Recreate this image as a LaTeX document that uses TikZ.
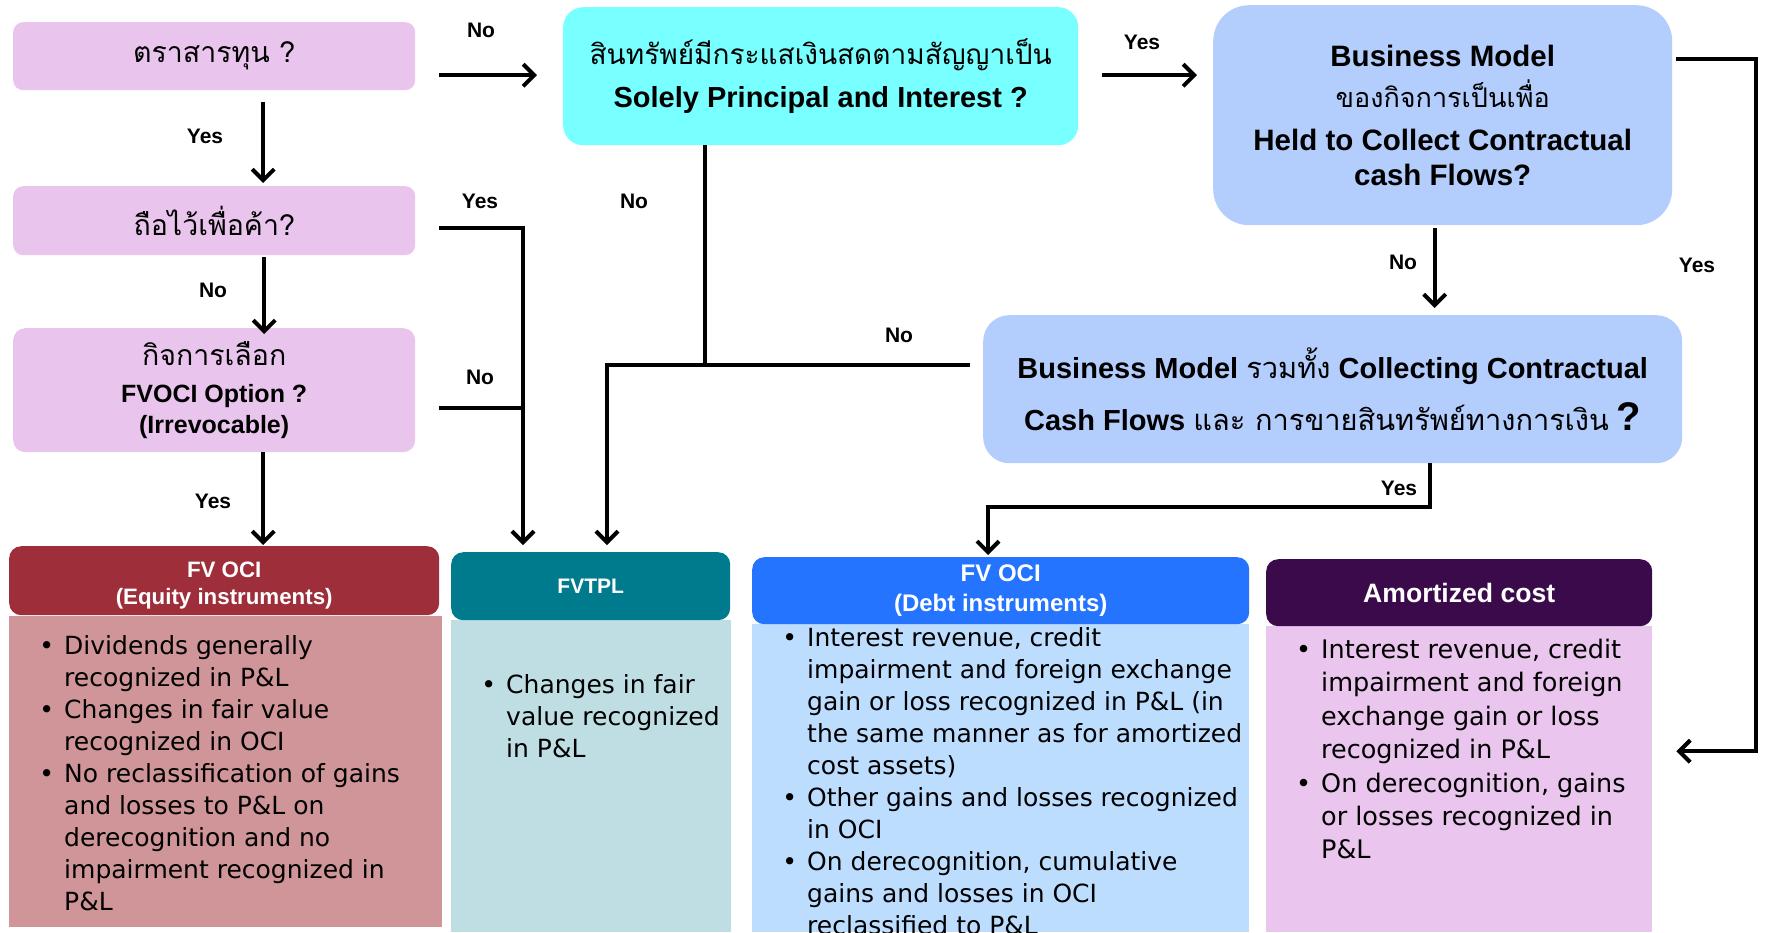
\documentclass[tikz,border=0pt]{standalone}
\usepackage{fontspec}
\setmainfont{Liberation Sans}
\newfontfamily\thaifont[Script=Thai]{Loma}
\newfontfamily\bodyfont{DejaVu Sans}
\usetikzlibrary{arrows.meta,calc}
\definecolor{pinkq}{HTML}{E9C5EE}
\definecolor{cyanq}{HTML}{78FFFF}
\definecolor{blueq}{HTML}{B3CDFD}
\definecolor{eqhead}{HTML}{9E2E3A}
\definecolor{eqbody}{HTML}{CF9599}
\definecolor{tphead}{HTML}{007B8E}
\definecolor{tpbody}{HTML}{BEDEE3}
\definecolor{dbhead}{HTML}{2474FF}
\definecolor{dbbody}{HTML}{BDDDFE}
\definecolor{amhead}{HTML}{3A0A4A}
\definecolor{ambody}{HTML}{EAC5EE}
\tikzset{
  qbox/.style={anchor=north west, inner sep=0pt, align=center, text=black},
  conn/.style={line width=4pt},
  arr/.style={conn, -{Straight Barb[length=11pt,width=22pt]}},
  lbl/.style={font=\fontsize{21}{24}\selectfont\bfseries, inner sep=0pt},
  head/.style={anchor=north west, inner sep=0pt, rounded corners=12pt, text=white, align=center},
  bodyrect/.style={anchor=north west, inner sep=0pt},
  bodytxt/.style={anchor=north west, inner sep=0pt, align=left, font=\bodyfont\fontsize{25}{32}\selectfont},
}
\newcommand{\bl}{\llap{•\hspace{10pt}}}
\begin{document}
\begin{tikzpicture}[x=1pt,y=-1pt]
\useasboundingbox (0,0) rectangle (1768,932);
\fill[white] (0,0) rectangle (1768,932);

% question boxes
\node[qbox, fill=pinkq, rounded corners=10pt, minimum width=402pt, minimum height=68pt,
  font=\thaifont\fontsize{28.5}{30}\selectfont] (A) at (13,22) {ตราสารทุน ?};
\node[qbox, fill=pinkq, rounded corners=10pt, minimum width=402pt, minimum height=69pt,
  font=\thaifont\fontsize{28.5}{30}\selectfont] (B) at (13,186) {ถือไว้เพื่อค้า?};
\node[qbox, fill=pinkq, rounded corners=12pt, minimum width=402pt, minimum height=124pt,
  font=\fontsize{25}{31}\selectfont] (C) at (13,328)
  {{\thaifont\fontsize{28.5}{31}\selectfont กิจการเลือก}\\[6pt]\textbf{FVOCI Option ?}\\\textbf{(Irrevocable)}};
\node[qbox, fill=cyanq, rounded corners=20pt, minimum width=515pt, minimum height=138pt,
  font=\fontsize{28}{43}\selectfont] (D) at (563,7)
  {{\thaifont สินทรัพย์มีกระแสเงินสดตามสัญญาเป็น}\\\textbf{\fontsize{29}{43}\selectfont Solely Principal and Interest ?}};
\node[qbox, fill=blueq, rounded corners=36pt, minimum width=459pt, minimum height=220pt,
  font=\bfseries\fontsize{29.5}{35}\selectfont] (E) at (1213,5)
  {Business Model\\[6pt]{\thaifont\mdseries\fontsize{27}{35}\selectfont ของกิจการเป็นเพื่อ}\\[8pt]Held to Collect Contractual\\cash Flows?};
\node[qbox, fill=blueq, rounded corners=26pt, minimum width=699pt, minimum height=148pt,
  font=\bfseries\fontsize{29}{52}\selectfont] (F) at (983,315)
  {Business Model {\thaifont\mdseries รวมทั้ง} Collecting Contractual\\Cash Flows {\thaifont\mdseries และ การขายสินทรัพย์ทางการเงิน} {\fontsize{40}{40}\selectfont ?}};

% result bodies
\node[bodyrect, fill=eqbody, minimum width=433pt, minimum height=311pt] (G1b) at (9,616) {};
\node[bodyrect, fill=tpbody, minimum width=280pt, minimum height=312pt] (G2b) at (451,620) {};
\node[bodyrect, fill=dbbody, minimum width=497pt, minimum height=308pt] (G3b) at (752,624) {};
\node[bodyrect, fill=ambody, minimum width=386pt, minimum height=306pt] (G4b) at (1266,626) {};

% result headers
\node[head, fill=eqhead, minimum width=430pt, minimum height=69pt,
  font=\bfseries\fontsize{22.3}{27}\selectfont] (G1h) at (9,546) {\\[-2pt]FV OCI\\(Equity instruments)};
\node[head, fill=tphead, minimum width=279pt, minimum height=68pt,
  font=\bfseries\fontsize{21}{27}\selectfont] (G2h) at (451,552) {FVTPL};
\node[head, fill=dbhead, minimum width=497pt, minimum height=67pt,
  font=\bfseries\fontsize{24}{30}\selectfont] (G3h) at (752,557) {FV OCI\\(Debt instruments)};
\node[head, fill=amhead, minimum width=386pt, minimum height=67pt,
  font=\bfseries\fontsize{26.6}{30}\selectfont] (G4h) at (1266,559) {Amortized cost};

% body texts
\node[bodytxt] (T1) at (64,635) {\bl Dividends generally\\recognized in P\&L\\\bl Changes in fair value\\recognized in OCI\\\bl No reclassification of gains\\and losses to P\&L on\\derecognition and no\\impairment recognized in\\P\&L};
\node[bodytxt] (T2) at (506,674) {\bl Changes in fair\\value recognized\\in P\&L};
\node[bodytxt] (T3) at (807,627) {\bl Interest revenue, credit\\impairment and foreign exchange\\gain or loss recognized in P\&L (in\\the same manner as for amortized\\cost assets)\\\bl Other gains and losses recognized\\in OCI\\\bl On derecognition, cumulative\\gains and losses in OCI\\reclassified to P\&L};
\node[bodytxt, font=\bodyfont\fontsize{25.5}{33.4}\selectfont] (T4) at (1321,639) {\bl Interest revenue, credit\\impairment and foreign\\exchange gain or loss\\recognized in P\&L\\\bl On derecognition, gains\\or losses recognized in\\P\&L};

% connectors
\draw[arr] ($(A.south)+(49,12)$) -- ($(B.north)+(49,-3)$);
\draw[arr] ($(B.south)+(50,2)$) -- ($(C.north)+(50,6)$);
\draw[arr] ($(C.south)+(49,0)$) -- ($(G1h.north)+(39,-1)$);
\draw[arr] ($(A.east |- D.west)+(24,-1)$) -- ($(D.west)+(-26,-1)$);
\draw[arr] ($(B.east)+(24,7)$) -| ($(G2h.north west)+(72,-7)$);
\draw[conn] ($(C.east)+(24,18)$) -- ($(C.east)+(110,18)$);
\draw[conn] ($(D.south west)+(142,0)$) -- ($(D.south west)+(142,220)$);
\draw[arr] ($(F.west)+(-13,-24)$) -| ($(G2h.north west)+(156,-7)$);
\draw[arr] ($(D.east)+(24,-1)$) -- ($(E.west |- D.east)+(-16,-1)$);
\draw[arr] ($(E.south)+(-8,3)$) -- ($(F.north -| E.south)+(-8,-7)$);
\draw[arr] ($(E.east)+(4,-56)$) -- ++(80,0) |- ($(G4b.east)+(24,-28)$);
\draw[arr] ($(F.south)+(97,0)$) -- ++(0,44) -| ($(G3h.north west)+(236,-2)$);

% labels
\node[lbl] (l1) at (481,30) {No};
\node[lbl] (l2) at (205,136) {Yes};
\node[lbl] (l3) at (213,290) {No};
\node[lbl] (l4) at (213,501) {Yes};
\node[lbl] (l5) at (480,201) {Yes};
\node[lbl] (l6) at (480,377) {No};
\node[lbl] (l7) at (634,201) {No};
\node[lbl] (l8) at (899,335) {No};
\node[lbl] (l9) at (1142,42) {Yes};
\node[lbl] (l10) at (1403,262) {No};
\node[lbl] (l11) at (1697,265) {Yes};
\node[lbl] (l12) at (1399,488) {Yes};
\end{tikzpicture}
\end{document}
